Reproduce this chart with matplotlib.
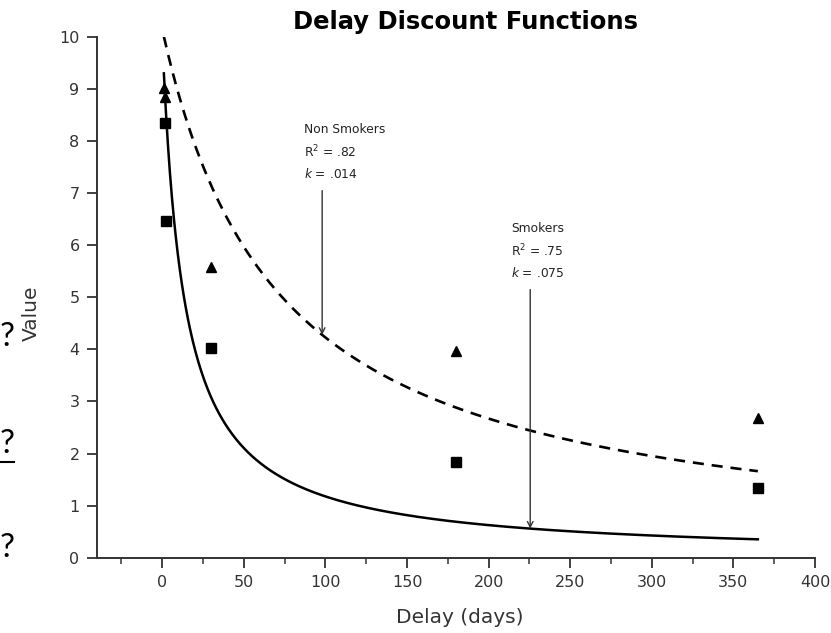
import numpy as np
import matplotlib.pyplot as plt
from matplotlib.lines import Line2D
from matplotlib.ticker import MultipleLocator

# Observed mean values (indifference points) by delay
smoker_delay = [1.4, 2.3, 30, 180, 365]
smoker_value = [8.35, 6.47, 4.03, 1.83, 1.34]
nonsmoker_delay = [0.8, 1.5, 30, 180, 365]
nonsmoker_value = [9.02, 8.85, 5.59, 3.96, 2.68]

# Hyperbolic fits V = A / (1 + kD)
smoker_k, smoker_A = 0.075, 10.0
nonsmoker_k, nonsmoker_A = 0.014, 10.15
smoker_label = 'Smokers\nR$^2$ = .75\n$k$ = .075'
nonsmoker_label = 'Non Smokers\nR$^2$ = .82\n$k$ = .014'

x_ticks = [0, 50, 100, 150, 200, 250, 300, 350, 400]
y_ticks = list(range(0, 11))


def hyperbolic(d, A, k):
    return A / (1 + k * np.asarray(d))


fig = plt.figure(figsize=(8.31, 6.33), dpi=100)
ax = fig.add_axes([0.1167, 0.119, 0.864, 0.8225])

d = np.linspace(1, 365, 600)
ax.plot(d, hyperbolic(d, smoker_A, smoker_k), color='black', lw=1.8)
ax.plot(d, hyperbolic(d, nonsmoker_A, nonsmoker_k), color='black', lw=1.9,
        linestyle=(0, (4.2, 3.0)))

ax.plot(smoker_delay, smoker_value, 's', color='black', markersize=6.5)
ax.plot(nonsmoker_delay, nonsmoker_value, '^', color='black', markersize=7.5)

# arrows pointing at the fitted curves
arrow = dict(arrowstyle='->', color='#333333', lw=1.0, mutation_scale=10,
             shrinkA=0, shrinkB=0)
ax.annotate('', xy=(98, hyperbolic(98, nonsmoker_A, nonsmoker_k)),
            xytext=(98, 7.05), arrowprops=arrow)
ax.annotate('', xy=(225.5, hyperbolic(225.5, smoker_A, smoker_k)),
            xytext=(225.5, 5.15), arrowprops=arrow)
ax.text(87, 8.35, nonsmoker_label, fontsize=8.8, va='top', ha='left',
        linespacing=1.6, color='#222222')
ax.text(214, 6.45, smoker_label, fontsize=8.8, va='top', ha='left',
        linespacing=1.6, color='#222222')

ax.set_xlim(-40, 400)
ax.set_ylim(0, 10)
ax.set_xticks(x_ticks)
ax.set_yticks(y_ticks)
ax.xaxis.set_minor_locator(MultipleLocator(25))
for side in ('top', 'right'):
    ax.spines[side].set_visible(False)
for side in ('left', 'bottom'):
    ax.spines[side].set_linewidth(1.4)
    ax.spines[side].set_color('#333333')
ax.tick_params(axis='both', which='major', labelsize=11.5, colors='#333333',
               width=1.3, length=7.5, pad=5)
ax.tick_params(axis='x', which='minor', width=1.1, length=4, color='#333333')
ax.tick_params(axis='y', which='minor', length=0)

fig.text(0.56, 0.966, 'Delay Discount Functions', fontsize=17.5,
         fontweight='bold', ha='center', va='center')
fig.text(0.553, 0.024, 'Delay (days)', fontsize=14.5, ha='center',
         va='center', color='#333333')
fig.text(0.038, 0.505, 'Value', fontsize=14.5, rotation=90, ha='center',
         va='center', color='#333333')

# stray question marks at the left margin
for y in (337, 444, 548):
    fig.text(0.0, 1 - y / 633, '?', fontsize=24, family='Lato',
             ha='left', va='center')
fig.add_artist(Line2D([0.0, 14 / 831], [1 - 462 / 633] * 2, color='black',
                      lw=1.5, transform=fig.transFigure))

fig.savefig('out.png', dpi=100)
